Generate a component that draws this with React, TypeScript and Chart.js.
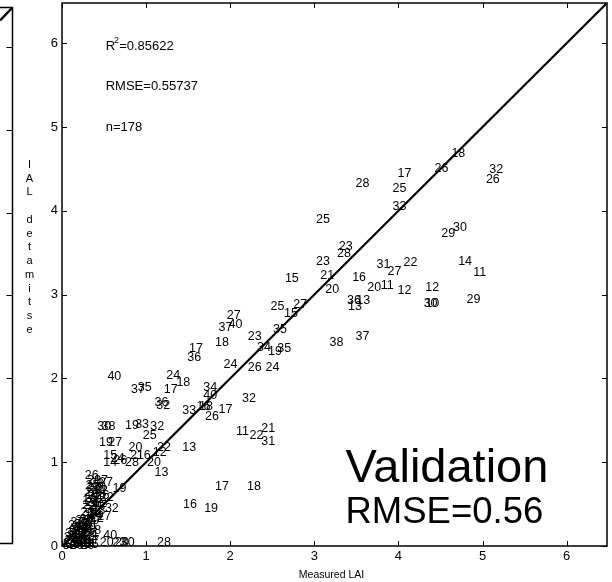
import React, { useEffect, useRef } from 'react';
import { Chart, registerables } from 'chart.js';
Chart.register(...registerables);

// ---- Data ----
const measuredLAI: number[] = [
  4.63, 4.43, 5.08, 5.04, 3.99, 3.93, 3.49, 3.93, 4.51, 4.65,
  4.71, 4.89, 3.74, 3.87, 4.06, 3.63, 3.79, 3.99, 4.32, 4.30,
  4.32, 4.81, 3.02, 3.29, 3.27, 3.02, 3.07, 3.45, 2.65, 3.13,
  2.48, 2.75, 2.64, 3.39, 3.40, 3.50, 1.96, 1.86, 1.98, 1.82,
  2.21, 2.51, 2.32, 2.45, 2.56, 1.92, 2.21, 2.42, 3.18, 3.49,
  1.68, 1.68, 1.60, 1.63, 1.70, 1.86, 2.14, 2.07, 2.23, 2.37,
  2.37, 1.82, 2.20, 0.54, 0.82, 0.90, 1.24, 1.36, 1.21, 1.51,
  1.49, 1.10, 1.12, 1.43, 0.42, 0.47, 0.75, 0.87, 1.05, 0.96,
  0.44, 0.55, 0.79, 0.81, 0.89, 1.08, 1.13, 1.01, 1.10, 1.43,
  0.49, 0.49, 0.58, 0.61, 0.75, 1.44, 1.69, 1.13, 0.49, 0.45,
  0.60, 0.63, 0.70, 0.27, 0.38, 0.44, 0.60, 0.45, 0.51, 0.42,
  0.30, 0.33, 0.28, 0.36, 0.31, 0.27, 0.35, 0.30, 0.40, 0.26,
  0.33, 0.28, 0.37, 0.24, 0.31, 0.27, 0.35, 0.22, 0.30, 0.25,
  0.33, 0.21, 0.28, 0.34, 0.29, 0.38, 0.24, 0.32,
  0.20, 0.14, 0.26, 0.18, 0.10, 0.24, 0.15, 0.30, 0.08, 0.20,
  0.13, 0.26, 0.06, 0.18, 0.11, 0.23, 0.03, 0.16, 0.08, 0.21,
  0.01, 0.12, 0.05, 0.17, 0.09, 0.25, 0.14, 0.22, 0.02, 0.28,
  0.10, 0.16, 0.04, 0.19, 0.07, 0.27, 0.13, 0.01, 0.22, 0.12,
];

const estimatedLAI: number[] = [
  4.68, 4.50, 4.49, 4.37, 4.45, 4.26, 4.32, 4.05, 3.73, 3.80,
  3.40, 3.26, 3.36, 3.27, 3.38, 3.08, 3.11, 3.05, 3.08, 2.89,
  2.89, 2.94, 3.90, 3.57, 3.49, 3.40, 3.23, 3.20, 3.19, 3.06,
  2.86, 2.88, 2.77, 2.93, 2.86, 2.93, 2.75, 2.61, 2.64, 2.43,
  2.50, 2.58, 2.37, 2.32, 2.36, 2.17, 2.13, 2.13, 2.43, 2.50,
  1.89, 1.79, 1.66, 1.67, 1.55, 1.63, 1.76, 1.36, 1.32, 1.40,
  1.25, 0.71, 0.71, 2.02, 1.87, 1.89, 2.04, 1.95, 1.87, 2.36,
  2.25, 1.71, 1.68, 1.62, 1.43, 1.43, 1.44, 1.45, 1.42, 1.32,
  1.23, 1.23, 1.17, 1.08, 1.08, 1.11, 1.18, 1.00, 0.88, 1.18,
  1.08, 1.00, 1.04, 1.02, 1.00, 0.49, 0.45, 0.04, 0.13, 0.04,
  0.04, 0.04, 0.04, 0.84, 0.78, 0.76, 0.69, 0.58, 0.45, 0.35,
  0.78, 0.74, 0.72, 0.70, 0.67, 0.64, 0.63, 0.60, 0.60, 0.57,
  0.55, 0.52, 0.51, 0.48, 0.47, 0.44, 0.42, 0.40, 0.39, 0.36,
  0.33, 0.32, 0.30, 0.48, 0.70, 0.66, 0.54, 0.36,
  0.28, 0.26, 0.25, 0.23, 0.21, 0.21, 0.19, 0.18, 0.17, 0.16,
  0.14, 0.13, 0.12, 0.11, 0.09, 0.08, 0.07, 0.06, 0.05, 0.04,
  0.03, 0.03, 0.02, 0.02, 0.01, 0.03, 0.22, 0.19, 0.10, 0.07,
  0.28, 0.30, 0.15, 0.06, 0.24, 0.02, 0.12, 0.00, 0.00, 0.17,
];

const plotIds: string[] = [
  '18', '26', '32', '26', '17', '25', '28', '33', '29', '30',
  '14', '11', '31', '27', '22', '20', '11', '12', '12', '30',
  '10', '29', '25', '23', '28', '23', '21', '16', '15', '20',
  '25', '27', '15', '36', '13', '13', '27', '37', '40', '18',
  '23', '35', '34', '19', '35', '24', '26', '24', '38', '37',
  '34', '40', '16', '18', '26', '17', '32', '11', '22', '21',
  '31', '17', '18', '40', '37', '35', '24', '18', '17', '17',
  '36', '36', '32', '33', '30', '38', '19', '33', '32', '25',
  '19', '27', '20', '21', '16', '12', '22', '20', '13', '13',
  '15', '14', '24', '26', '28', '16', '19', '28', '40', '20',
  '23', '20', '30', '26', '17', '27', '19', '22', '32', '27',
  '29', '23', '25', '19', '22', '24', '28', '21', '26', '25',
  '31', '23', '12', '22', '29', '33', '13', '21', '24', '27',
  '22', '25', '19', '20', '27', '32', '16', '14',
  '23', '25', '31', '22', '29', '20', '26', '18', '21', '33',
  '27', '24', '25', '30', '28', '12', '20', '19', '32', '21',
  '23', '39', '26', '40', '20', '11', '34', '36', '22', '17',
  '37', '38', '31', '15', '24', '35', '28', '30', '29', '23',
];

const axisTicks: number[] = [0, 1, 2, 3, 4, 5, 6];
const axisMax = 6.48;
const oneToOneLine: number[] = [0, 6.48];
const statLines: string[] = ['=0.85622', 'RMSE=0.55737', 'n=178'];
const statValuesY: number[] = [5.96, 5.49, 4.99];
const xTitle = 'Measured LAI';
const yTitleLetters: string[] = ['I', 'A', 'L', '', 'd', 'e', 't', 'a', 'm', 'i', 't', 's', 'e'];
const bigTitle = 'Validation';
const bigSubtitle = 'RMSE=0.56';

const FONT = '"Liberation Sans", Arial, Helvetica, sans-serif';

const stylePlugin = {
  id: 'matlabStyle',
  beforeDraw(chart: any) {
    const ctx = chart.ctx;
    ctx.save();
    ctx.fillStyle = '#fff';
    ctx.fillRect(0, 0, chart.width, chart.height);
    ctx.restore();
  },
  afterDatasetsDraw(chart: any) {
    const ctx = chart.ctx;
    const { left, right, top, bottom } = chart.chartArea;
    const xs = chart.scales.x;
    const ys = chart.scales.y;
    ctx.save();
    ctx.fillStyle = '#000';
    ctx.strokeStyle = '#000';

    // point labels
    const meta = chart.getDatasetMeta(1);
    ctx.font = `12.5px ${FONT}`;
    ctx.textAlign = 'left';
    ctx.textBaseline = 'middle';
    meta.data.forEach((el: any, i: number) => {
      ctx.fillText(plotIds[i], el.x, el.y);
    });

    // frame
    ctx.lineWidth = 1.5;
    ctx.strokeRect(left, top, right - left, bottom - top);

    // inward ticks
    ctx.lineWidth = 1;
    const tl = 5;
    axisTicks.forEach((v) => {
      const px = Math.round(xs.getPixelForValue(v)) + 0.5;
      ctx.beginPath();
      ctx.moveTo(px, bottom); ctx.lineTo(px, bottom - tl);
      ctx.moveTo(px, top); ctx.lineTo(px, top + tl);
      ctx.stroke();
      const py = Math.round(ys.getPixelForValue(v)) + 0.5;
      ctx.beginPath();
      ctx.moveTo(left, py); ctx.lineTo(left + tl, py);
      ctx.moveTo(right, py); ctx.lineTo(right - tl, py);
      ctx.stroke();
    });

    // statistics text
    const sx = xs.getPixelForValue(0.52);
    ctx.font = `13px ${FONT}`;
    ctx.textBaseline = 'middle';
    statLines.forEach((s, i) => {
      const py = ys.getPixelForValue(statValuesY[i]);
      if (i === 0) {
        ctx.fillText('R', sx, py);
        const rw = ctx.measureText('R').width;
        ctx.font = `9px ${FONT}`;
        ctx.fillText('2', sx + rw - 1, py - 6);
        const w2 = ctx.measureText('2').width;
        ctx.font = `13px ${FONT}`;
        ctx.fillText(s, sx + rw - 1 + w2, py);
      } else {
        ctx.fillText(s, sx, py);
      }
    });

    // big annotation
    ctx.textBaseline = 'alphabetic';
    ctx.font = `47px ${FONT}`;
    ctx.fillText(bigTitle, xs.getPixelForValue(3.37), ys.getPixelForValue(0.76));
    ctx.font = `36.5px ${FONT}`;
    ctx.fillText(bigSubtitle, xs.getPixelForValue(3.37), ys.getPixelForValue(0.275));

    // x title
    ctx.font = `10.5px ${FONT}`;
    ctx.textAlign = 'center';
    ctx.textBaseline = 'middle';
    ctx.fillText(xTitle, (left + right) / 2 - 3, bottom + 29);

    // y title (stacked letters)
    ctx.font = `11px ${FONT}`;
    const y0 = ys.getPixelForValue(4.55);
    yTitleLetters.forEach((ch, i) => {
      if (ch) ctx.fillText(ch, 29.5, y0 + i * 13.75);
    });

    // partial neighbouring panel on the far left
    ctx.lineWidth = 1.5;
    const pTop = top + 4.5;
    const pBottom = bottom - 2.5;
    const pRight = 12.5;
    ctx.beginPath();
    ctx.moveTo(0, pTop); ctx.lineTo(pRight, pTop);
    ctx.lineTo(pRight, pBottom); ctx.lineTo(0, pBottom);
    ctx.stroke();
    ctx.lineWidth = 1;
    const ratio = (pBottom - pTop) / (bottom - top);
    axisTicks.slice(1).forEach((v) => {
      const py = Math.round(pBottom - (bottom - ys.getPixelForValue(v)) * ratio) + 0.5;
      ctx.beginPath();
      ctx.moveTo(pRight, py); ctx.lineTo(pRight - 6, py);
      ctx.stroke();
    });
    ctx.lineWidth = 2.5;
    ctx.beginPath();
    ctx.moveTo(0, pTop + 13);
    ctx.lineTo(pRight, pTop);
    ctx.stroke();

    ctx.restore();
  },
};

export default function App() {
  const ref = useRef<HTMLCanvasElement | null>(null);
  useEffect(() => {
    if (!ref.current) return;
    const points = measuredLAI.map((x, i) => ({ x, y: estimatedLAI[i] }));
    const line = oneToOneLine.map((v) => ({ x: v, y: v }));
    const tickFont = { size: 13, family: FONT };
    const chart = new Chart(ref.current, {
      type: 'scatter',
      data: {
        datasets: [
          {
            data: line,
            showLine: true,
            borderColor: '#000',
            borderWidth: 2.2,
            pointRadius: 0,
          },
          {
            data: points,
            pointRadius: 0,
            pointHoverRadius: 0,
            borderColor: 'rgba(0,0,0,0)',
            backgroundColor: 'rgba(0,0,0,0)',
          },
        ],
      },
      options: {
        responsive: false,
        animation: false,
        devicePixelRatio: 1,
        events: [],
        layout: { padding: { left: 8, right: 5, top: 3, bottom: 0 } },
        plugins: { legend: { display: false }, tooltip: { enabled: false } },
        scales: {
          x: {
            type: 'linear',
            min: 0,
            max: axisMax,
            afterFit: (s: any) => { s.height = 36; s.paddingLeft = 0; s.paddingRight = 0; },
            afterBuildTicks: (s: any) => { s.ticks = axisTicks.map((v) => ({ value: v })); },
            ticks: { font: tickFont, color: '#000', padding: 3, maxRotation: 0, autoSkip: false, includeBounds: false },
            grid: { display: false, drawTicks: false },
            border: { display: false },
          },
          y: {
            type: 'linear',
            min: 0,
            max: axisMax,
            afterFit: (s: any) => { s.width = 54; s.paddingTop = 0; s.paddingBottom = 0; },
            afterBuildTicks: (s: any) => { s.ticks = axisTicks.map((v) => ({ value: v })); },
            ticks: { font: tickFont, color: '#000', padding: 4, autoSkip: false, includeBounds: false },
            grid: { display: false, drawTicks: false },
            border: { display: false },
          },
        },
      },
      plugins: [stylePlugin],
    });
    return () => chart.destroy();
  }, []);
  return (
    <div style={{ position: 'absolute', left: 0, top: 0, width: 612, height: 582, background: '#fff' }}>
      <canvas ref={ref} width={612} height={582} style={{ display: 'block' }} />
    </div>
  );
}
